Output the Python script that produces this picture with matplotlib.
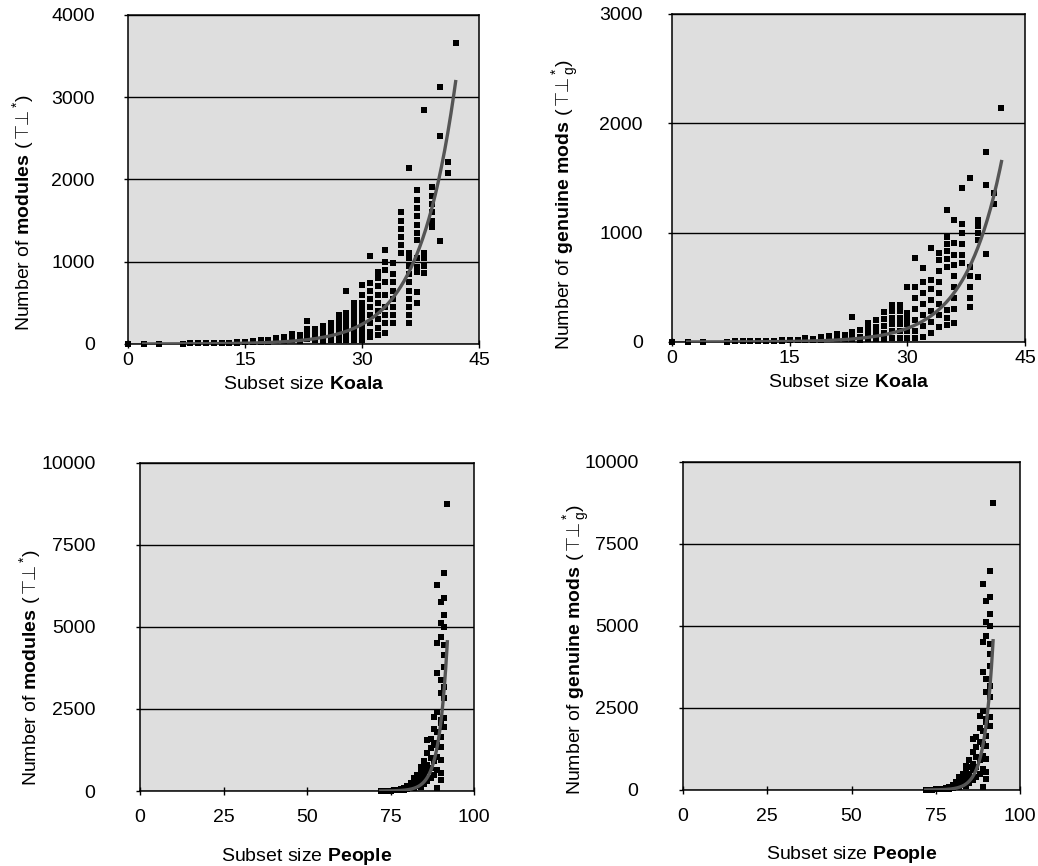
import matplotlib
matplotlib.use('Agg')
import matplotlib.pyplot as plt
import numpy as np

# Koala: subset size -> number of modules (one list of values per size)
koala_sizes = [0, 2, 4, 7, 8, 9, 10, 11, 12, 13, 14, 15, 16, 17, 18, 19, 20,
               21, 22, 23, 24, 25, 26, 27, 28, 29, 30, 31, 32, 33, 34, 35,
               36, 37, 38, 39, 40, 41, 42]
koala_modules = [
    [2], [3], [4], [5], [6], [7], [8], [9], [10, 13], [12, 16], [15, 22],
    [18, 26], [20, 32], [25, 40, 52], [30, 48], [35, 55, 72], [40, 62, 85],
    [50, 80, 120], [40, 72, 105], [60, 100, 150, 185, 280],
    [50, 90, 130, 180], [40, 80, 130, 180, 220], [50, 100, 150, 200, 250],
    [50, 100, 150, 200, 250, 300, 350],
    [50, 100, 150, 200, 250, 300, 375, 640],
    [50, 100, 150, 200, 250, 300, 350, 400, 450, 495],
    [50, 100, 150, 200, 250, 300, 350, 400, 450, 500, 600, 717],
    [85, 150, 250, 350, 450, 550, 650, 740, 1074],
    [110, 200, 300, 400, 500, 600, 700, 800, 875],
    [134, 250, 350, 450, 600, 750, 900, 1000, 1143],
    [255, 350, 450, 550, 650, 750, 850, 985],
    [1103, 1200, 1300, 1400, 1500, 1608],
    [255, 350, 450, 550, 650, 750, 850, 950, 1050, 1106, 2140],
    [495, 636, 880, 940, 1042, 1265, 1350, 1450, 1550, 1650, 1750, 1870],
    [863, 950, 1050, 1106, 2850],
    [1426, 1500, 1600, 1700, 1800, 1912],
    [1256, 2530, 3130], [2080, 2210], [3660],
]
koala_genuine = [
    [1], [2], [3], [4], [5], [6], [7], [8], [9, 11], [10, 13], [12, 16],
    [14, 19], [16, 22], [18, 26, 35], [20, 30], [22, 35, 48], [25, 40, 55],
    [30, 50, 70], [30, 45, 60], [30, 60, 90, 232], [20, 50, 110],
    [30, 80, 130, 174], [30, 80, 140, 201], [30, 80, 150, 210, 274],
    [40, 100, 160, 220, 280, 338], [40, 100, 160, 220, 280, 338],
    [40, 100, 160, 220, 265, 503],
    [40, 100, 200, 300, 400, 503, 765],
    [46, 150, 250, 350, 450, 550, 677],
    [82, 180, 280, 380, 480, 567, 857],
    [137, 250, 350, 450, 550, 650, 750, 814],
    [155, 220, 293, 686, 760, 830, 900, 960, 1207],
    [174, 300, 400, 500, 600, 700, 800, 906, 1116],
    [720, 800, 900, 1000, 1080, 1405],
    [320, 400, 500, 600, 686, 1497],
    [598, 933, 1000, 1060, 1116],
    [805, 1436, 1735], [1262, 1366], [2138],
]

# People: subset size -> number of modules (genuine mods look the same)
people_sizes = [72, 73, 74, 75, 76, 77, 78, 79, 80, 81, 82, 83, 84, 85, 86,
                87, 88, 89, 90, 91, 92]
people_modules = [
    [5], [8], [10], [15], [20, 30], [25, 40], [30, 60], [40, 80, 100],
    [50, 100, 150], [80, 150, 180, 250], [100, 200, 300, 390],
    [150, 250, 350, 500], [130, 300, 450, 600, 740],
    [200, 335, 500, 700, 900], [300, 600, 800, 1150, 1550],
    [400, 700, 1000, 1300, 1600], [500, 900, 1450, 1900, 2260],
    [80, 640, 1040, 1400, 1800, 2400, 3590, 4500, 6280],
    [335, 540, 940, 1350, 1650, 2060, 2160, 2980, 3380, 4700, 5110, 5750],
    [1950, 2220, 2830, 3180, 3790, 4150, 4450, 5010, 5370, 5870, 6660],
    [8740],
]
people_genuine = people_modules

# exponential trend lines: (x start, x end, y at end, growth rate)
koala_modules_trend = (2, 42, 3190, 0.216)
koala_genuine_trend = (2, 42, 1650, 0.215)
people_modules_trend = (72, 92, 4550, 0.40)
people_genuine_trend = (72, 92, 4550, 0.40)

plt.rcParams['font.family'] = ['Liberation Sans', 'DejaVu Sans']
plt.rcParams['mathtext.fontset'] = 'custom'
plt.rcParams['mathtext.rm'] = 'Liberation Sans'
plt.rcParams['mathtext.bf'] = 'Liberation Sans:bold'
plt.rcParams['mathtext.it'] = 'Liberation Sans:italic'

fig = plt.figure(figsize=(10.38, 8.66), dpi=100)

lab_mod = r'Number of $\mathbf{modules}$ ($\top\!\!\!\bot^{*}$)'
lab_gen = r'Number of $\mathbf{genuine\ mods}$ ($\top\!\!\!\bot^{*}_{\mathrm{g}}$)'

panels = [
    # rect, sizes, values, trend, xmax, xticks, ymax, yticks, ylabel, xlabel,
    # y tick pad, x tick pad, x label pad, ylabel position
    ([0.1233, 0.6028, 0.3382, 0.3799], koala_sizes, koala_modules, koala_modules_trend,
     45, [0, 15, 30, 45], 4000, [0, 1000, 2000, 3000, 4000],
     lab_mod, r'Subset size $\mathbf{Koala}$', 21, 3, 5, (-0.30, 0.40)),
    ([0.6474, 0.6051, 0.3401, 0.3788], koala_sizes, koala_genuine, koala_genuine_trend,
     45, [0, 15, 30, 45], 3000, [0, 1000, 2000, 3000],
     lab_gen, r'Subset size $\mathbf{Koala}$', 18, 3, 5, (-0.30, 0.42)),
    ([0.1349, 0.0866, 0.3218, 0.3788], people_sizes, people_modules, people_modules_trend,
     100, [0, 25, 50, 75, 100], 10000, [0, 2500, 5000, 7500, 10000],
     lab_mod, r'Subset size $\mathbf{People}$', 29, 10, 14, (-0.33, 0.375)),
    ([0.658, 0.0878, 0.3247, 0.3788], people_sizes, people_genuine, people_genuine_trend,
     100, [0, 25, 50, 75, 100], 10000, [0, 2500, 5000, 7500, 10000],
     lab_gen, r'Subset size $\mathbf{People}$', 29, 10, 14, (-0.315, 0.43)),
]

for (rect, sizes, cols, trend, xmax, xticks, ymax, yticks,
     ylabel, xlabel, ypad, xpad, xlpad, ylpos) in panels:
    ax = fig.add_axes(rect)
    ax.set_facecolor('#dedede')

    xs = np.repeat(sizes, [len(c) for c in cols])
    ys = np.concatenate(cols)
    ax.plot(xs, ys, 's', color='black', markersize=4.2, mew=0, zorder=3, clip_on=False)

    x0, x1, yend, rate = trend
    tx = np.linspace(x0, x1, 200)
    ax.plot(tx, yend * np.exp(rate * (tx - x1)), color='#555555', lw=2.4, zorder=4)

    ax.set_xlim(0, xmax)
    ax.set_ylim(0, ymax)
    ax.set_xticks(xticks)
    ax.set_yticks(yticks)
    ax.yaxis.grid(True, color='black', lw=1.0)
    ax.set_axisbelow(True)
    for s in ax.spines.values():
        s.set_color('black')
        s.set_linewidth(1.1)

    ax.tick_params(axis='x', direction='inout', length=6, width=1, pad=xpad, labelsize=14)
    ax.tick_params(axis='y', direction='out', length=3, width=1, pad=ypad, labelsize=14)

    ax.set_xlabel(xlabel, fontsize=14, labelpad=xlpad)
    ax.set_ylabel(ylabel, fontsize=14, va='center')
    ax.yaxis.set_label_coords(*ylpos)

plt.savefig('out.png', dpi=100)
